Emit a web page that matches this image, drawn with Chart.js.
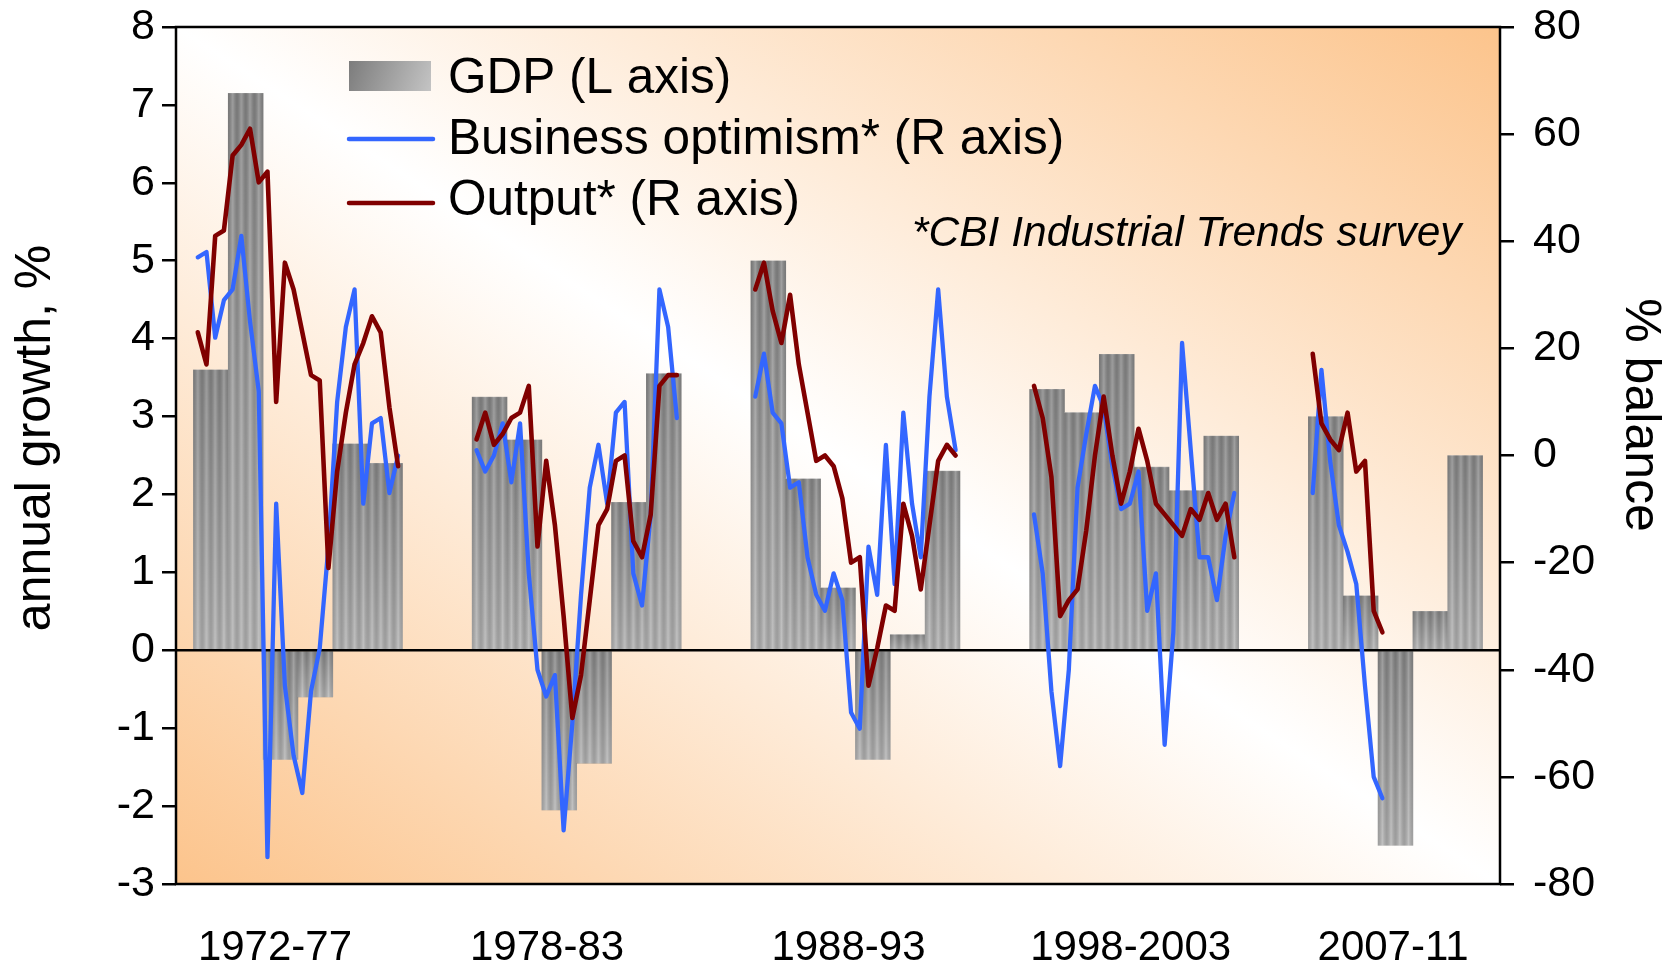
<!DOCTYPE html>
<html>
<head>
<meta charset="utf-8">
<script src="https://cdn.jsdelivr.net/npm/chart.js@4/dist/chart.umd.min.js"></script>
<style>
  html, body { margin: 0; padding: 0; background: #fff; }
  #wrap { width: 1672px; height: 962px; position: relative; }
</style>
</head>
<body>
<div id="wrap"><canvas id="myChart"></canvas></div>
<script>
// Periods shown on the (compressed) x axis
const periodLabels = ['1972-77', '1978-83', '1988-93', '1998-2003', '2007-11'];
const periodStartYears = [1972, 1978, 1988, 1998, 2007];

// GDP, annual growth % (L axis) - one value per year
const gdp1972 = [3.6, 7.15, -1.4, -0.6, 2.65, 2.4];
const gdp1978 = [3.25, 2.7, -2.05, -1.45, 1.9, 3.55];
const gdp1988 = [5.0, 2.2, 0.8, -1.4, 0.2, 2.3];
const gdp1998 = [3.35, 3.05, 3.8, 2.35, 2.05, 2.75];
const gdp2007 = [3.0, 0.7, -2.5, 0.5, 2.5];

// CBI Industrial Trends survey, % balance (R axis) - quarterly, from Q1 of the first year
const optimism1972 = [37, 38, 22, 29, 31, 41, 25, 12, -75, -9, -43, -56, -63, -44, -36, -17, 10, 24, 31, -9, 6, 7, -7, 0];
const optimism1978 = [1, -3, 0, 6, -5, 6, -22, -40, -45, -41, -70, -50, -26, -6, 2, -9, 8, 10, -22, -28, -11, 31, 24, 7];
const optimism1988 = [11, 19, 8, 6, -6, -5, -19, -26, -29, -22, -27, -48, -51, -17, -26, 2, -24, 8, -9, -19, 11, 31, 11, 1];
const optimism1998 = [-11, -22, -44, -58, -40, -6, 4, 13, 9, -2, -10, -9, -3, -29, -22, -54, -33, 21, 1, -19, -19, -27, -15, -7];
const optimism2007 = [-7, 16, -1, -13, -18, -24, -43, -60, -64];

const output1972 = [23, 17, 41, 42, 56, 58, 61, 51, 53, 10, 36, 31, 23, 15, 14, -21, -3, 8, 17, 21, 26, 23, 9, -2];
const output1978 = [3, 8, 2, 4, 7, 8, 13, -17, -1, -13, -30, -49, -41, -27, -13, -10, -1, 0, -16, -19, -11, 13, 15, 15];
const output1988 = [31, 36, 27, 21, 30, 17, 8, -1, 0, -2, -8, -20, -19, -43, -36, -28, -29, -9, -15, -25, -13, -1, 2, 0];
const output1998 = [13, 7, -4, -30, -27, -25, -14, 0, 11, 0, -9, -3, 5, -1, -9, -11, -13, -15, -10, -12, -7, -12, -9, -19];
const output2007 = [19, 6, 3, 1, 8, -3, -1, -29, -33];

const leftTicks = [-3, -2, -1, 0, 1, 2, 3, 4, 5, 6, 7, 8];
const rightTicks = [-80, -60, -40, -20, 0, 20, 40, 60, 80];

const gdpByPeriod = [gdp1972, gdp1978, gdp1988, gdp1998, gdp2007];
const optimismByPeriod = [optimism1972, optimism1978, optimism1988, optimism1998, optimism2007];
const outputByPeriod = [output1972, output1978, output1988, output1998, output2007];

// each period takes 6 year-slots plus a 2 slot gap
const SLOTS = 8;
const FONT = "'Liberation Sans', Arial, sans-serif";

function yearPoints(series) {
  const pts = [];
  series.forEach((vals, p) => {
    vals.forEach((v, i) => pts.push({ x: p * SLOTS + i + 1, y: v }));
  });
  return pts;
}

function quarterPoints(series) {
  const pts = [];
  series.forEach((vals, p) => {
    vals.forEach((v, q) => pts.push({ x: p * SLOTS + 0.625 + q * 0.25, y: v }));
    pts.push({ x: p * SLOTS + 7, y: null }); // break the line between periods
  });
  return pts;
}

// striped grey fill, darker at the top of each bar
function barFill(context) {
  const chart = context.chart;
  const xs = chart.scales.x, ys = chart.scales.y;
  const pt = context.raw;
  if (!pt || !xs || !ys || !chart.chartArea) return '#9c9c9c';
  const w1 = xs.getPixelForValue(1) - xs.getPixelForValue(0);
  if (!isFinite(w1) || w1 <= 0) return '#9c9c9c';
  const left = xs.getPixelForValue(pt.x) - w1 / 2;
  const p0 = ys.getPixelForValue(0), p1 = ys.getPixelForValue(pt.y);
  const top = Math.min(p0, p1);
  const h = Math.max(2, Math.ceil(Math.abs(p1 - p0)));
  const w = Math.ceil(w1);
  const c = document.createElement('canvas');
  c.width = w; c.height = h;
  const g = c.getContext('2d');
  const vg = g.createLinearGradient(0, 0, 0, h);
  vg.addColorStop(0, '#878787');
  vg.addColorStop(1, '#b4b4b4');
  g.fillStyle = vg;
  g.fillRect(0, 0, w, h);
  const q = w1 / 4;
  for (let i = 0; i < 4; i++) {
    const sg = g.createLinearGradient(i * q, 0, (i + 1) * q, 0);
    sg.addColorStop(0, 'rgba(0,0,0,0.12)');
    sg.addColorStop(0.5, 'rgba(255,255,255,0.2)');
    sg.addColorStop(1, 'rgba(0,0,0,0.12)');
    g.fillStyle = sg;
    g.fillRect(i * q, 0, q, h);
  }
  const pat = chart.ctx.createPattern(c, 'repeat');
  pat.setTransform(new DOMMatrix([1, 0, 0, 1, left, top]));
  return pat;
}

const decorPlugin = {
  id: 'decor',
  beforeDraw(chart) {
    const { ctx, chartArea: a } = chart;
    ctx.save();
    ctx.translate(a.left, a.top);
    ctx.scale(a.right - a.left, a.bottom - a.top);
    const bg = ctx.createLinearGradient(0, 1, 1, 0);
    bg.addColorStop(0, '#fcc48c');
    bg.addColorStop(0.5, '#ffffff');
    bg.addColorStop(1, '#fcc48c');
    ctx.fillStyle = bg;
    ctx.fillRect(0, 0, 1, 1);
    ctx.restore();
  },
  afterDatasetDraw(chart, args) {
    if (args.index !== 0) return;
    const { ctx, chartArea: a } = chart;
    const y0 = chart.scales.y.getPixelForValue(0);
    ctx.save();
    ctx.strokeStyle = '#000';
    ctx.lineWidth = 2.5;
    ctx.beginPath();
    ctx.moveTo(a.left, y0);
    ctx.lineTo(a.right, y0);
    ctx.stroke();
    ctx.restore();
  },
  afterDraw(chart) {
    const { ctx, chartArea: a } = chart;
    ctx.save();
    ctx.strokeStyle = '#000';
    ctx.lineWidth = 2.5;
    ctx.strokeRect(a.left, a.top, a.right - a.left, a.bottom - a.top);

    // legend
    const lg = ctx.createLinearGradient(349, 61, 431, 91);
    lg.addColorStop(0, '#7c7c7c');
    lg.addColorStop(1, '#c4c4c4');
    ctx.fillStyle = lg;
    ctx.fillRect(349, 61, 82, 30);
    ctx.lineCap = 'round';
    ctx.lineWidth = 4.5;
    ctx.strokeStyle = '#3366ff';
    ctx.beginPath(); ctx.moveTo(349, 139); ctx.lineTo(433, 139); ctx.stroke();
    ctx.strokeStyle = '#800000';
    ctx.beginPath(); ctx.moveTo(349, 203); ctx.lineTo(433, 203); ctx.stroke();
    ctx.fillStyle = '#000';
    ctx.textAlign = 'left';
    ctx.textBaseline = 'alphabetic';
    ctx.font = '49.5px ' + FONT;
    ctx.fillText('GDP (L axis)', 448, 93);
    ctx.fillText('Business optimism* (R axis)', 448, 154);
    ctx.fillText('Output* (R axis)', 448, 215);

    ctx.font = 'italic 42.5px ' + FONT;
    ctx.fillText('*CBI Industrial Trends survey', 912, 246);

    // axis titles
    ctx.textAlign = 'center';
    ctx.textBaseline = 'alphabetic';
    ctx.font = '50px ' + FONT;
    ctx.save();
    ctx.translate(50, 438);
    ctx.rotate(-Math.PI / 2);
    ctx.fillText('annual growth, %', 0, 0);
    ctx.restore();
    ctx.save();
    ctx.translate(1626, 415);
    ctx.rotate(Math.PI / 2);
    ctx.fillText('% balance', 0, 0);
    ctx.restore();
    ctx.restore();
  }
};

// x positions (in year slots) of the period labels
const periodLabelX = [2.84, 10.65, 19.3, 27.4, 34.93];

function fixVertical(width) {
  return s => { s.width = width; s.paddingTop = 0; s.paddingBottom = 0; };
}

const config = {
  type: 'bar',
  data: {
    datasets: [
      {
        type: 'bar',
        label: 'GDP (L axis)',
        data: yearPoints(gdpByPeriod),
        yAxisID: 'y',
        backgroundColor: barFill,
        borderWidth: 0,
        barPercentage: 1.0,
        categoryPercentage: 1.0,
        order: 3,
      },
      {
        type: 'line',
        label: 'Business optimism* (R axis)',
        data: quarterPoints(optimismByPeriod),
        yAxisID: 'y1',
        borderColor: '#3366ff',
        borderWidth: 4.3,
        pointRadius: 0,
        tension: 0,
        spanGaps: false,
        borderCapStyle: 'round',
        borderJoinStyle: 'round',
        order: 2,
      },
      {
        type: 'line',
        label: 'Output* (R axis)',
        data: quarterPoints(outputByPeriod),
        yAxisID: 'y1',
        borderColor: '#800000',
        borderWidth: 4.6,
        pointRadius: 0,
        tension: 0,
        spanGaps: false,
        borderCapStyle: 'round',
        borderJoinStyle: 'round',
        order: 1,
      },
    ],
  },
  options: {
    responsive: true,
    maintainAspectRatio: false,
    animation: false,
    layout: { padding: { left: 0, right: 0, top: 27, bottom: 0 } },
    plugins: {
      legend: { display: false },
      tooltip: { enabled: false },
    },
    scales: {
      x: {
        type: 'linear',
        min: 0,
        max: 38,
        offset: false,
        grid: { display: false },
        border: { display: false },
        afterBuildTicks: s => { s.ticks = periodLabelX.map(v => ({ value: v })); },
        afterFit: s => { s.height = 78; s.paddingLeft = 0; s.paddingRight = 0; },
        ticks: {
          color: '#000',
          padding: 31,
          maxRotation: 0,
          autoSkip: false,
          font: { family: FONT, size: 42, lineHeight: 1.2 },
          callback: (v, i) => periodLabels[i],
        },
      },
      y: {
        position: 'left',
        min: -3,
        max: 8,
        afterBuildTicks: s => { s.ticks = leftTicks.map(v => ({ value: v })); },
        afterFit: fixVertical(176),
        grid: { drawOnChartArea: false, color: '#000', tickColor: '#000', lineWidth: 2.5, tickLength: 14 },
        border: { display: false },
        ticks: { color: '#000', padding: 7, font: { family: FONT, size: 43 } },
      },
      y1: {
        position: 'right',
        min: -80,
        max: 80,
        afterBuildTicks: s => { s.ticks = rightTicks.map(v => ({ value: v })); },
        afterFit: fixVertical(172),
        grid: { drawOnChartArea: false, color: '#000', tickColor: '#000', lineWidth: 2.5, tickLength: 14 },
        border: { display: false },
        ticks: { color: '#000', padding: 19, font: { family: FONT, size: 43 } },
      },
    },
  },
  plugins: [decorPlugin],
};

const myChart = new Chart(document.getElementById('myChart').getContext('2d'), config);
</script>
</body>
</html>
